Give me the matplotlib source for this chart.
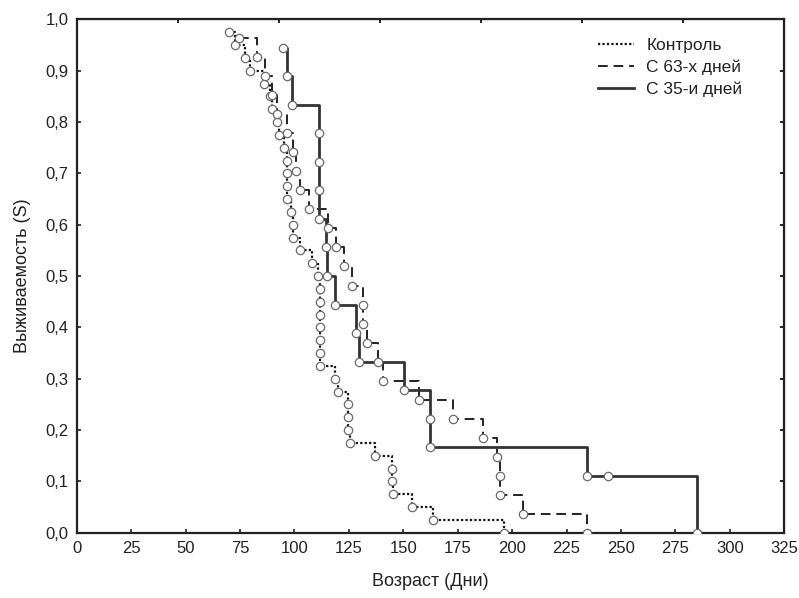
import numpy as np
import matplotlib
matplotlib.use('Agg')
import matplotlib.pyplot as plt
from matplotlib.ticker import FuncFormatter

plt.rcParams['font.family'] = ['Liberation Sans', 'DejaVu Sans']
plt.rcParams['font.size'] = 12
plt.rcParams['text.color'] = '#222222'
plt.rcParams['axes.labelcolor'] = '#222222'

# Контроль (n=40): time of each event and survival after it
control_t = [70.0, 72.7, 77.3, 79.6, 86.2, 88.8, 89.9, 91.9, 92.9, 95.0,
             96.4, 96.7, 96.7, 96.7, 98.3, 99.2, 99.2, 102.6, 107.9, 110.9,
             111.7, 111.7, 111.7, 111.7, 111.7, 111.7, 111.9, 118.6, 120.2, 124.5,
             124.5, 124.5, 125.6, 137.0, 144.7, 144.7, 145.5, 154.2, 163.8, 196.2]
control_s = [0.975, 0.950, 0.925, 0.900, 0.875, 0.850, 0.825, 0.800, 0.775, 0.750,
             0.725, 0.700, 0.675, 0.650, 0.625, 0.600, 0.575, 0.550, 0.525, 0.500,
             0.475, 0.450, 0.425, 0.400, 0.375, 0.350, 0.325, 0.300, 0.275, 0.250,
             0.225, 0.200, 0.175, 0.150, 0.125, 0.100, 0.075, 0.050, 0.025, 0.000]

# С 63-х дней (n=27)
d63_t = [74.7, 82.7, 86.5, 89.5, 92.0, 96.7, 99.2, 100.7, 102.6, 106.8,
         115.6, 119.0, 122.7, 126.6, 131.6, 131.6, 133.5, 138.5, 140.8, 157.4,
         173.0, 186.7, 192.9, 194.5, 194.5, 205.0, 234.2]
d63_s = [0.963, 0.926, 0.889, 0.852, 0.815, 0.778, 0.741, 0.704, 0.667, 0.630,
         0.593, 0.556, 0.519, 0.481, 0.444, 0.407, 0.370, 0.333, 0.296, 0.259,
         0.222, 0.185, 0.148, 0.111, 0.074, 0.037, 0.000]

# С 35-и дней (n=18)
d35_t = [94.9, 96.7, 99.0, 111.3, 111.3, 111.3, 111.3, 114.4, 114.8, 118.6,
         128.3, 129.7, 150.5, 162.3, 162.3, 234.2, 244.1, 285.0]
d35_s = [0.944, 0.889, 0.833, 0.778, 0.722, 0.667, 0.611, 0.556, 0.500, 0.444,
         0.389, 0.333, 0.278, 0.222, 0.167, 0.111, 0.111, 0.000]

labels = ['Контроль', 'С 63-х дней', 'С 35-и дней']

series = [
    (control_t, control_s, (0, (1, 1)), 1.6, '#111111'),
    (d63_t, d63_s, (0, (5, 3)), 1.4, '#222222'),
    (d35_t, d35_s, '-', 2.0, '#333333'),
]

fig = plt.figure(figsize=(7.99, 5.98), dpi=100)
ax = fig.add_axes([0.0959, 0.1092, 0.8858, 0.8582])

for (t, s, ls, lw, col), label in zip(series, labels):
    ax.step(t, s, where='post', ls=ls, lw=lw, color=col, label=label, zorder=2)
    ax.plot(t, s, 'o', ms=6, mfc='white', mec='#6a6a6a', mew=0.9, zorder=3)

ax.set_xlim(0, 325)
ax.set_ylim(0, 1.0)
ax.set_xticks(np.arange(0, 326, 25))
ax.set_yticks(np.arange(0, 1.01, 0.1))
ax.yaxis.set_major_formatter(FuncFormatter(lambda v, p: ('%.1f' % v).replace('.', ',')))

ax.tick_params(direction='in', length=3, width=1.2, colors='#222222', labelsize=12, pad=6)
for sp in ax.spines.values():
    sp.set_linewidth(1.6)
    sp.set_color('#222222')

# top and right spines carry their own tick marks
top = ax.secondary_xaxis('top')
top.set_xticks(np.linspace(0, 325, 8)[1:-1])
top.tick_params(direction='in', length=3, width=1.2, labeltop=False)
right = ax.secondary_yaxis('right')
right.set_yticks(np.arange(0.1, 1.0, 0.1))
right.tick_params(direction='in', length=3, width=1.2, labelright=False)

ax.set_xlabel('Возраст (Дни)', fontsize=13, labelpad=12)
ax.set_ylabel('Выживаемость (S)', fontsize=13, labelpad=10)

ax.legend(loc='upper left', bbox_to_anchor=(0.748, 0.936), bbox_transform=fig.transFigure,
          frameon=False, borderpad=0, borderaxespad=0, handlelength=2.1,
          handletextpad=0.7, labelspacing=0.35, fontsize=12.5)

plt.savefig('out.png', dpi=100)
